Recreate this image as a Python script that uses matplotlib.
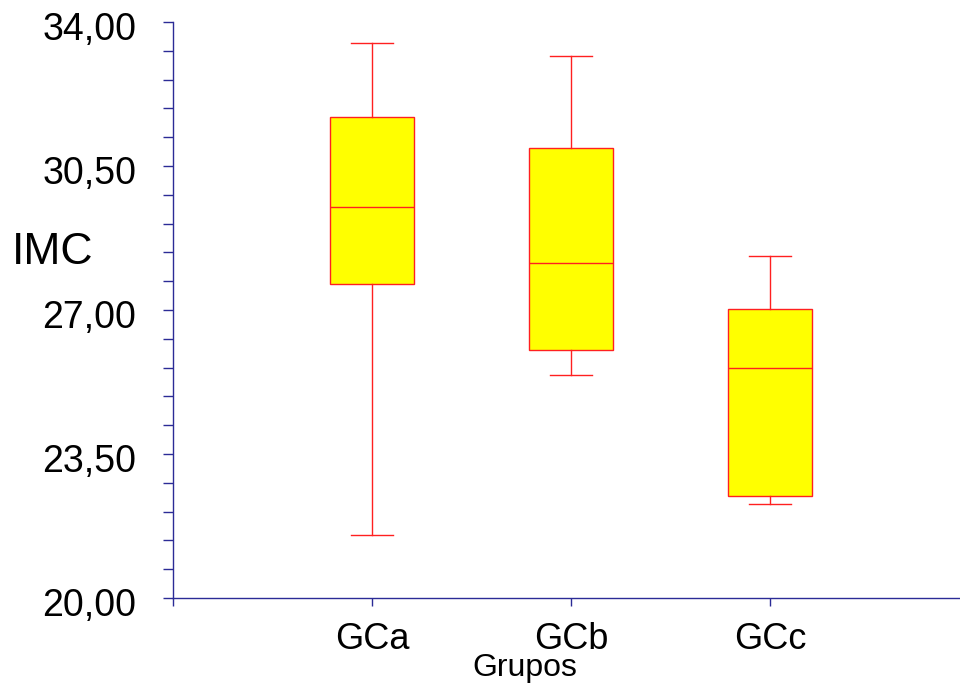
import matplotlib
matplotlib.use("Agg")
import matplotlib.pyplot as plt
import matplotlib.transforms as mtransforms
import numpy as np
from matplotlib.ticker import FixedLocator, MultipleLocator, FuncFormatter

plt.rcParams['font.family'] = ['Liberation Sans', 'DejaVu Sans']

# box statistics per group
groups = ["GCa", "GCb", "GCc"]
whisker_low = [21.53, 25.42, 22.28]
q1 = [27.63, 26.03, 22.48]
median = [29.50, 28.14, 25.59]
q3 = [31.69, 30.94, 27.02]
whisker_high = [33.49, 33.17, 28.31]

AXIS_COLOR = "#2b2b96"
BOX_EDGE = "#ff2020"

fig = plt.figure(figsize=(9.6, 6.88), dpi=100)
ax = fig.add_axes([173 / 960, 1 - 598 / 688, 1 - 173 / 960, (598 - 22) / 688])

stats = []
for i, g in enumerate(groups):
    stats.append({
        "label": g,
        "whislo": whisker_low[i],
        "q1": q1[i],
        "med": median[i],
        "q3": q3[i],
        "whishi": whisker_high[i],
        "fliers": [],
    })

positions = np.arange(1, len(groups) + 1)
ax.bxp(
    stats,
    positions=positions,
    widths=0.42,
    capwidths=0.21,
    patch_artist=True,
    showfliers=False,
    boxprops=dict(facecolor="#ffff00", edgecolor=BOX_EDGE, linewidth=1.0),
    medianprops=dict(color=BOX_EDGE, linewidth=1.0),
    whiskerprops=dict(color=BOX_EDGE, linewidth=1.0),
    capprops=dict(color=BOX_EDGE, linewidth=1.0),
)

ax.set_xlim(0, 787 / 199)
ax.set_ylim(20, 34)

ax.spines["top"].set_visible(False)
ax.spines["right"].set_visible(False)
for side in ("left", "bottom"):
    ax.spines[side].set_color(AXIS_COLOR)
    ax.spines[side].set_linewidth(1.0)

ax.yaxis.set_major_locator(FixedLocator([20, 23.5, 27, 30.5, 34]))
ax.yaxis.set_minor_locator(MultipleLocator(0.7, offset=20))
ax.yaxis.set_major_formatter(FuncFormatter(lambda v, p: f"{v:.2f}".replace(".", ",")))
ax.tick_params(axis="y", which="both", direction="out", length=7.5, width=1.0,
               color=AXIS_COLOR, labelsize=27, pad=19)

ax.xaxis.set_major_locator(FixedLocator([0] + list(positions)))
ax.set_xticklabels([""] + groups)
ax.tick_params(axis="x", direction="out", length=6, width=1.0,
               color=AXIS_COLOR, labelsize=26, pad=11)

# nudge the y labels a little below their ticks
shift = mtransforms.ScaledTranslation(0, -4 / 100, fig.dpi_scale_trans)
for lab in ax.get_yticklabels():
    lab.set_transform(lab.get_transform() + shift)

fig.text(12 / 960, 1 - 252 / 688, "IMC", fontsize=32, ha="left", va="center")
fig.text(525 / 960, 1 - 668 / 688, "Grupos", fontsize=23, ha="center", va="center")

fig.savefig("out.png", dpi=100)
